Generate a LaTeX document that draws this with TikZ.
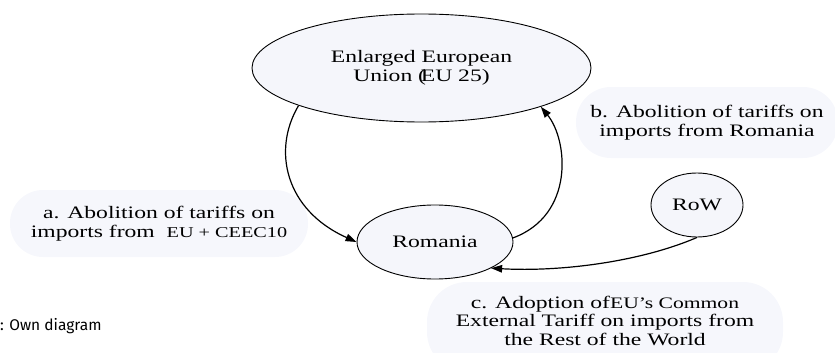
\documentclass[tikz,border=0pt]{standalone}
\usepackage{fontspec}
\setmainfont{Liberation Serif}[FakeStretch=1.35]
\newfontfamily\capfont{Fira Sans}
\usetikzlibrary{arrows.meta,shapes.geometric}
\definecolor{nodefill}{RGB}{245,246,251}
\definecolor{bubblefill}{RGB}{246,247,252}
\begin{document}
\begin{tikzpicture}[x=1pt,y=-1pt,
  lbl/.style={font=\fontsize{17.5}{19}\selectfont, align=center},
  ell/.style={ellipse, draw, line width=0.9pt, fill=nodefill, inner sep=0pt, lbl},
  bubble/.style={rectangle, rounded corners=#1, fill=bubblefill, inner sep=0pt, lbl},
  conn/.style={line width=1.2pt, -{Triangle[length=11pt,width=7.5pt]}}]
\clip (0,0) rectangle (835,353);
% label bubbles
\node[bubble=33pt, minimum width=298pt, minimum height=67pt] (la) at (159,223.5)
  {a. Abolition of tariffs on\\imports from\ \ {\fontsize{15}{19}\selectfont EU + CEEC10}};
\node[bubble=35pt, minimum width=262pt, minimum height=71pt] (lb) at (707,122.5)
  {b. Abolition of tariffs on\\imports from Romania};
\node[bubble=40pt, minimum width=356pt, minimum height=90pt,
      font=\fontsize{17.5}{18.5}\selectfont] (lc) at (605,327)
  {\raisebox{0pt}[\height][\depth]{}c. Adoption of{\fontsize{16}{18.5}\selectfont EU's Common}\\External Tariff on imports from\\the Rest of the World\\[-6pt]\mbox{}};
% countries
\node[ell, minimum width=339pt, minimum height=108pt] (eu) at (421.5,68)
  {Enlarged European\\Union (\kern-0.3em EU 25)};
\node[ell, minimum width=156pt, minimum height=74pt] (rom) at (435,242) {Romania};
\node[ell, minimum width=92pt, minimum height=64pt] (row) at (697,205) {RoW};
% connectors
\draw[conn] (eu.197) .. controls (272,150) and (285,210) .. (rom.west);
\draw[conn] (rom.3) .. controls (575,215) and (568,140) .. (eu.342);
\draw[conn] (row.south) .. controls (640,262) and (560,272) .. (rom.-25);
% source
\node[anchor=west, font=\capfont\fontsize{15.5}{17}\selectfont, inner sep=0pt] (src) at (0,326) {: Own diagram};
\end{tikzpicture}
\end{document}
